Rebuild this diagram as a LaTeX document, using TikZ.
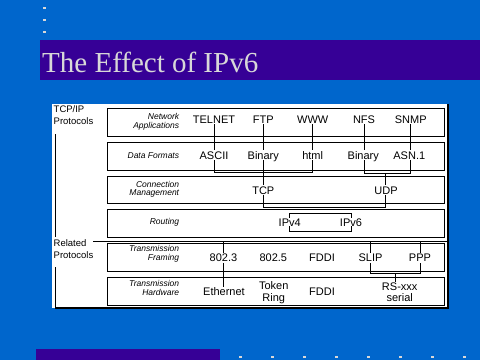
\documentclass[tikz,border=0pt]{standalone}
\usepackage{fontspec}
\setmainfont{Liberation Sans}
\newfontfamily\titlefont{Liberation Serif}
\definecolor{bg}{RGB}{0,102,204}
\definecolor{bar}{RGB}{54,0,150}
\definecolor{ttl}{RGB}{216,216,216}
\pgfdeclarelayer{back}
\pgfdeclarelayer{mid}
\pgfsetlayers{back,mid,main}
\begin{document}
\begin{tikzpicture}[x=1pt,y=-1pt,
  layerbox/.style={draw=black, line width=0.9pt, minimum width=337.4pt, minimum height=28pt, inner sep=0pt},
  item/.style={font=\fontsize{11}{11.3}\selectfont, inner sep=1pt, text height=8pt, text depth=0pt},
  itemtwo/.style={font=\fontsize{11}{11.3}\selectfont, inner sep=1pt, align=center},
  lab/.style={font=\itshape\fontsize{8.5}{8.5}\selectfont, align=right, anchor=east, inner sep=0pt},
  side/.style={font=\fontsize{9.5}{12}\selectfont, align=left, anchor=north west, inner sep=0pt},
  wire/.style={line width=0.8pt}]
\useasboundingbox (0,0) rectangle (480,360);
\begin{pgfonlayer}{back}
\fill[bg] (0,0) rectangle (480,360);
\foreach \yy in {7,19,31} \fill[ttl] (43,\yy) rectangle ++(2.6,2.4);
\fill[bar] (40,40) rectangle (480,80);
\fill[bar] (36,349) rectangle (220,360);
\foreach \i in {0,...,7} \fill[ttl] ({239+32*\i},355.5) rectangle ++(2.5,2);
\fill[white] (52,104) rectangle (448,308);
\draw[line width=1.3pt] (55,308) -- (448,308) -- (448,104);
\draw[line width=1pt] (55.3,134) -- (55.3,237);
\draw[line width=1pt] (55.3,267) -- (55.3,308);
\end{pgfonlayer}

\node[anchor=base west, text=ttl, font=\titlefont\fontsize{29}{29}\selectfont, inner sep=0pt] (title) at (42,72.7) {The Effect of IPv6};

\node[side] (tcpip) at (53.5,105.5) {TCP/IP\\Protocols};
\node[side] (related) at (53.5,239.5) {Related\\Protocols};

% layer boxes
\node[layerbox] (r1) at (276,122.3) {};
\node[layerbox] (r2) at (276,156.3) {};
\node[layerbox, minimum height=27.4pt] (r3) at (276,190) {};
\node[layerbox] (r4) at (276,223.7) {};
\node[layerbox, minimum height=27.3pt] (r5) at (276,257.3) {};
\node[layerbox] (r6) at (276,291.3) {};

% row labels
\node[lab] (l1) at (179.3,122) {Network\\Applications};
\node[lab] (l2) at (179.3,155.5) {Data Formats};
\node[lab] (l3) at (179.3,189.5) {Connection\\Management};
\node[lab] (l4) at (179.3,222.5) {Routing};
\node[lab] (l5) at (179.3,254) {Transmission\\Framing};
\node[lab] (l6) at (179.3,288) {Transmission\\Hardware};

% items
\node[item] (telnet) at (214,119) {TELNET};
\node[item] (ftp) at (263.3,119) {FTP};
\node[item] (www) at (312.7,119) {WWW};
\node[item] (nfs) at (364,119) {NFS};
\node[item] (snmp) at (410.7,119) {SNMP};

\node[item] (ascii) at (214,155) {ASCII};
\node[item] (binA) at (263.3,155) {Binary};
\node[item] (html) at (312.7,155) {html};
\node[item] (binB) at (363.3,155) {Binary};
\node[item] (asn) at (409.3,155) {ASN.1};

\node[item] (tcp) at (263.3,190) {TCP};
\node[item] (udp) at (386,190) {UDP};

\node[item, fill=white, inner sep=0.3pt] (ipv4) at (289.7,222) {IPv4};
\node[item, fill=white, inner sep=0.3pt] (ipv6) at (351,222) {IPv6};

\node[item] (n8023) at (223.5,257.7) {802.3};
\node[item] (n8025) at (273.3,257.7) {802.5};
\node[item] (fddiA) at (322,257.7) {FDDI};
\node[item] (slip) at (370.5,257.7) {SLIP};
\node[item] (ppp) at (420,257.7) {PPP};

\node[item] (eth) at (224,291.7) {Ethernet};
\node[itemtwo] (token) at (273.7,292.7) {Token\\Ring};
\node[item] (fddiB) at (322,291.7) {FDDI};
\node[itemtwo] (rs) at (399.7,292.5) {RS-xxx\\serial};

% connectors
\coordinate (b1) at (0,172.3);
\coordinate (b2) at (0,173);
\coordinate (b3) at (0,207);
\coordinate (rt) at (0,213.3);
\coordinate (rb) at (0,231.7);
\coordinate (sepL) at (93,241);
\coordinate (sepR) at (448,241);
\coordinate (b5) at (0,273.7);
\coordinate (b5m) at (395.3,273.7);
\coordinate (udpx) at (385.3,0);

\begin{pgfonlayer}{mid}
\draw[wire] (telnet.south) -- (ascii.north);
\draw[wire] (ftp.south) -- (binA.north);
\draw[wire] (www.south) -- (html.north);
\draw[wire] (nfs.south) -- (nfs.south |- binB.north);
\draw[wire] (snmp.south) -- (snmp.south |- asn.north);

\draw[wire] (ascii.south) -- (ascii.south |- b1) -- (html.south |- b1) -- (html.south);
\draw[wire] (binA.south) -- (tcp.north);
\draw[wire] (nfs.south |- binB.south) -- (nfs.south |- b2) -- (snmp.south |- b2) -- (snmp.south |- asn.south);
\draw[wire] (udpx |- b2) -- (udpx |- udp.north);

\draw[wire] (tcp.south) -- (tcp.south |- b3) -- (udpx |- b3) -- (udpx |- udp.south);

\draw[wire] (ipv4.center |- rt) -- (ipv6.center |- rt) -- (ipv6.center |- rb) -- (ipv4.center |- rb) -- cycle;

\draw[wire, line width=1pt] (sepL) -- (sepR);
\draw[wire] (n8023.north |- sepL) -- (n8023.north);
\draw[wire] (slip.north |- sepL) -- (slip.north);
\draw[wire] (ppp.north |- sepL) -- (ppp.north);

\draw[wire] (n8023.south) -- (n8023.south |- eth.north);
\draw[wire] (slip.south) -- (slip.south |- b5) -- (ppp.south |- b5) -- (ppp.south);
\draw[wire] (b5m) -- (b5m |- rs.north);
\end{pgfonlayer}
\end{tikzpicture}
\end{document}
